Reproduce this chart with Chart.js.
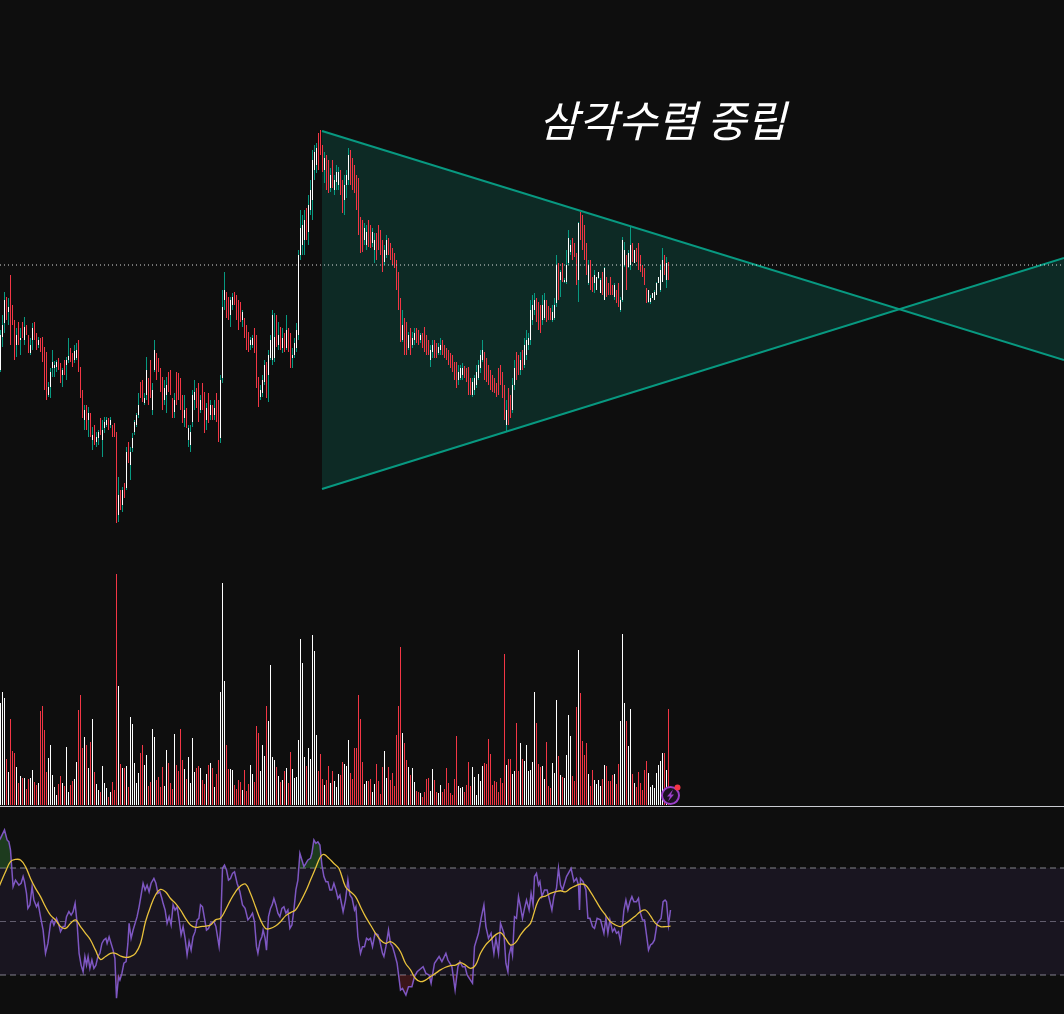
<!DOCTYPE html>
<html lang="ko">
<head>
<meta charset="utf-8">
<title>삼각수렴 중립</title>
<script src="https://cdn.jsdelivr.net/npm/chart.js@4.4.1/dist/chart.umd.min.js"></script>
<style>
  html, body { margin: 0; padding: 0; background: #0e0e0e; }
  #wrap { width: 1064px; height: 1014px; position: relative; }
</style>
</head>
<body>
<div id="wrap"><canvas id="chart"></canvas></div>
<script>
// candles, one per bar, oldest first
const openPrices = [
  635,650,638,655,630,663,677,700,688,695,
  690,675,655,670,660,675,660,673,662,647,
  660,675,665,655,660,660,650,640,605,613,
  632,632,633,640,635,625,638,635,640,650,
  645,640,642,655,630,605,580,590,580,585,
  560,570,558,562,580,560,572,575,580,575,
  573,572,567,485,507,495,510,512,550,535,
  552,568,575,585,615,610,597,605,618,635,
  590,630,645,640,628,620,600,605,625,620,
  600,588,622,620,615,602,582,590,560,555,
  578,600,608,610,590,612,605,580,595,585,
  593,585,605,595,562,622,700,705,700,685,
  695,704,700,697,690,680,680,672,665,655,
  655,670,662,620,603,607,618,635,625,642,
  640,642,680,655,670,652,662,652,670,665,
  642,645,652,665,745,755,760,785,768,790,
  800,830,835,855,860,850,830,840,835,812,
  830,810,818,815,825,815,800,815,820,845,
  835,830,822,815,780,775,760,755,775,770,
  757,750,762,770,765,755,738,745,760,755,
  750,745,738,725,700,660,680,675,652,670,
  655,660,670,668,660,665,668,660,658,640,
  648,657,655,647,650,658,653,650,647,645,
  642,635,630,620,622,625,632,630,625,620,
  605,610,615,622,632,640,645,638,632,628,
  622,620,615,625,630,625,610,575,605,600,
  590,615,642,640,630,645,635,645,655,660,
  680,690,698,695,690,680,682,695,692,690,
  680,682,697,735,720,735,718,718,737,748,
  760,755,745,720,787,782,772,755,717,738,
  722,717,710,722,707,728,700,723,717,723,
  715,703,710,715,690,700,735,745,733,735,
  757,737,752,757,745,735,732,712,698,698,
  702,700,705,717,710,718,745,720,737
];
const highPrices = [
  655,655,660,658,670,685,708,703,702,725,
  695,680,672,678,672,678,683,675,665,662,
  677,678,667,663,662,663,653,648,618,632,
  650,639,640,642,637,632,640,643,662,652,
  647,655,657,660,633,610,595,595,593,587,
  573,575,568,570,582,580,583,583,582,583,
  575,577,568,523,510,513,517,553,558,553,
  567,580,587,607,618,620,607,643,622,640,
  617,660,647,642,632,623,620,623,628,630,
  602,607,628,627,622,605,605,592,575,575,
  610,620,612,617,605,617,608,597,607,600,
  595,600,607,600,625,710,728,708,703,703,
  707,708,705,700,698,690,682,675,668,663,
  665,672,665,623,615,625,640,638,650,665,
  690,687,685,678,673,672,667,685,672,667,
  652,662,677,750,790,785,790,792,805,820,
  850,855,857,867,870,855,848,845,840,832,
  840,825,835,833,830,820,825,830,852,850,
  842,835,825,822,783,780,777,775,780,775,
  772,767,767,775,770,760,755,765,762,757,
  752,747,740,728,702,690,682,678,668,672,
  668,672,672,670,667,667,673,665,660,655,
  660,660,657,657,662,660,655,652,650,647,
  645,638,638,635,635,637,634,632,633,622,
  622,625,635,640,650,660,648,642,635,630,
  625,622,617,632,635,628,615,600,612,605,
  622,640,648,645,648,650,662,670,667,700,
  705,707,702,698,695,705,707,700,694,692,
  695,702,745,737,730,737,722,750,770,760,
  762,757,747,778,788,785,775,757,740,740,
  723,730,723,728,722,728,733,723,717,723,
  715,717,710,717,703,763,758,745,750,773,
  757,750,752,757,745,735,732,712,710,705,
  707,710,718,723,735,752,745,743,738
];
const lowPrices = [
  630,635,635,628,628,653,667,680,675,655,
  675,640,643,655,645,662,655,665,647,645,
  650,660,650,652,648,638,610,600,603,602,
  623,623,628,630,617,613,625,620,637,638,
  633,637,640,628,602,582,570,570,563,563,
  550,555,553,555,565,543,567,573,570,572,
  563,563,477,478,490,488,502,510,537,520,
  548,565,573,582,602,598,595,600,595,602,
  585,628,620,628,608,590,595,587,608,605,
  582,582,595,600,590,577,573,572,553,548,
  573,590,592,578,587,590,567,570,577,580,
  580,580,578,558,557,617,690,682,680,673,
  690,695,680,670,678,673,662,650,648,650,
  652,647,612,593,600,603,615,602,598,640,
  635,638,653,650,650,647,648,650,648,632,
  632,642,648,660,740,745,745,760,755,785,
  780,820,827,830,845,828,817,810,807,808,
  812,805,810,810,805,787,785,802,815,815,
  810,807,790,765,747,748,755,750,753,752,
  753,737,740,750,745,728,735,742,745,740,
  735,732,710,690,658,658,645,645,650,645,
  652,655,657,655,657,652,648,645,645,633,
  642,642,642,645,645,645,642,640,635,632,
  628,620,612,615,620,620,622,618,605,605,
  603,605,612,620,627,638,620,618,615,610,
  608,607,603,605,615,602,580,568,575,582,
  587,610,620,625,625,630,632,640,650,655,
  675,685,678,670,667,675,680,678,680,680,
  678,680,693,700,703,718,717,716,735,745,
  740,743,715,698,760,750,740,725,715,710,
  708,707,710,721,707,705,700,703,705,705,
  705,700,697,693,688,698,733,710,732,730,
  738,737,738,730,728,723,715,697,697,696,
  702,700,705,717,708,718,725,712,720
];
const closePrices = [
  650,640,655,632,665,675,700,682,693,670,
  678,650,665,658,662,665,673,667,650,655,
  672,662,652,660,650,640,615,605,613,628,
  638,635,638,632,620,630,628,640,644,640,
  635,649,650,630,605,585,590,572,587,565,
  565,560,563,568,568,570,578,580,572,580,
  567,565,485,505,493,510,505,548,540,548,
  562,578,585,595,605,600,602,630,602,605,
  610,650,625,630,612,595,612,615,612,608,
  585,600,600,605,595,582,590,578,572,568,
  605,608,595,582,600,592,572,592,582,595,
  582,592,582,562,620,693,710,685,682,700,
  703,697,682,675,680,688,665,652,652,660,
  662,650,615,600,610,620,635,605,645,660,
  685,663,655,665,652,662,650,670,650,635,
  645,657,670,745,772,775,780,770,795,810,
  840,848,852,835,850,832,842,815,810,825,
  815,820,828,828,810,790,815,825,845,825,
  818,812,800,770,755,752,772,768,758,755,
  768,760,745,752,748,732,750,760,748,742,
  738,735,715,695,665,675,655,650,665,655,
  662,667,660,658,665,655,652,650,648,650,
  655,645,645,653,655,648,645,642,638,635,
  630,622,615,628,632,632,625,620,610,608,
  618,622,628,635,645,650,625,622,618,612,
  610,610,605,608,618,605,585,590,582,585,
  615,632,622,628,640,632,655,660,662,690,
  695,700,682,675,670,695,700,682,682,682,
  688,695,735,702,728,720,720,735,762,755,
  742,745,717,777,763,753,742,728,735,712,
  710,725,723,728,720,705,732,705,707,707,
  705,715,697,695,700,760,750,712,747,755,
  738,750,738,732,728,723,715,697,710,702,
  707,708,717,723,730,740,725,737,722
];
const volumes = [
  60,75,50,90,102,113,107,46,33,86,
  54,52,38,22,29,27,27,16,26,27,
  35,23,20,22,94,99,75,33,47,60,
  30,18,10,21,29,22,19,58,13,20,
  24,26,43,95,110,57,68,60,37,63,
  86,33,21,15,13,39,22,17,8,13,
  23,15,231,119,41,37,37,39,18,88,
  81,42,22,32,52,60,40,50,19,23,
  76,68,25,28,18,38,19,55,42,22,
  16,71,40,34,76,45,36,26,48,22,
  67,33,37,39,37,25,21,31,40,42,
  37,18,31,45,113,222,124,60,36,36,
  35,20,16,25,23,15,35,14,21,40,
  31,23,79,72,34,60,49,99,84,140,
  48,45,38,29,23,25,34,37,22,53,
  36,27,28,65,166,142,48,39,57,46,
  170,154,70,34,51,26,20,25,39,22,
  34,24,18,31,30,43,41,39,65,32,
  26,57,57,110,86,43,21,24,24,26,
  13,21,41,24,11,38,54,27,38,25,
  32,19,70,99,158,72,62,45,38,30,
  37,23,14,13,12,8,13,26,27,14,
  36,25,13,12,20,13,16,37,22,12,
  10,26,69,19,17,18,13,20,43,19,
  38,28,10,31,24,39,42,41,66,51,
  20,24,23,13,27,22,151,40,46,46,
  31,34,82,34,62,46,44,60,34,35,
  43,113,82,41,38,39,26,63,19,17,
  42,32,105,49,30,28,27,50,90,69,
  29,24,98,155,112,64,50,62,31,19,
  35,25,21,25,19,26,40,39,24,24,
  30,31,21,41,84,171,102,84,59,96,
  31,22,18,33,22,15,35,44,32,18,
  20,17,32,40,44,52,52,35,96
];

// RSI as [bar index, value]
const rsiPoints = [
  [3,80.0],[4,81.1],[6,84.2],[7.3,80.5],[8.2,79.8],[9,76.7],[10.3,63.0],[11.5,65.5],[13.2,63.6],[14.3,64.3],
  [15.3,66.8],[16,64.9],[17,60.5],[17.7,54.9],[18.7,56.2],[19.8,63.0],[20.7,58.0],[22,55.5],[22.8,56.8],[24,51.8],
  [25.3,46.8],[26.5,38.1],[27.7,41.8],[29,49.3],[29.8,50.6],[30.7,48.7],[32,51.2],[33,49.3],[34,46.2],[35.3,48.1],
  [36.2,48.1],[37,51.8],[38.2,53.7],[39.3,52.4],[40.3,53.7],[41.3,56.8],[42.3,49.3],[43.3,38.1],[44.3,33.7],[45.3,31.2],
  [46.2,36.9],[47,33.7],[47.8,36.9],[48.7,32.5],[49.7,35.6],[50.7,32.5],[51.7,33.7],[52.7,36.9],[53.7,38.1],[54.7,41.8],
  [55.7,43.1],[56.7,43.7],[57.3,41.8],[58.3,44.3],[59.3,41.8],[60.3,39.3],[61.2,36.2],[62,21.3],[63,29.4],[63.7,28.1],
  [64.7,30.6],[65.7,34.4],[66.8,35.0],[67.7,41.8],[68.3,49.3],[69.3,43.7],[70.3,46.8],[71.3,49.3],[72.3,51.8],[73.3,55.5],
  [74.3,59.9],[75.3,64.3],[76.3,61.8],[77.3,63.6],[78.3,61.1],[79.3,64.3],[80.7,66.1],[81.7,64.3],[82.7,60.5],[83.7,61.1],
  [84.7,58.6],[85.3,56.8],[86.3,54.3],[87.3,49.3],[88.3,51.8],[89.3,48.7],[90.3,56.2],[91.3,54.3],[92.3,55.5],[93.3,50.6],
  [94.3,45.0],[95.3,48.1],[96.3,43.7],[97.3,37.5],[98.3,42.5],[99.3,39.3],[100.3,44.3],[101.3,46.2],[102.3,50.6],[103.2,51.2],
  [104,56.2],[105,55.5],[106,51.2],[107,46.8],[108,47.4],[109,49.3],[110.7,49.9],[111.7,48.1],[113.3,40.6],[114,46.8],
  [115,69.9],[116,71.1],[117,69.3],[118,65.5],[119,66.1],[120,68.0],[121,68.6],[122.3,64.3],[123.7,61.1],[125,56.2],
  [126.3,54.9],[127.7,50.6],[129,51.8],[130,53.1],[131,49.9],[132,40.6],[132.7,38.1],[133.7,42.5],[134.7,44.3],[135.3,46.8],
  [136.3,43.7],[137,39.3],[138,51.8],[139,54.9],[139.8,56.2],[140.7,58.6],[141.7,56.2],[142.7,53.1],[143.7,51.8],[144.7,54.9],
  [145.7,55.5],[146.7,53.1],[147.7,54.3],[148.7,47.4],[149.7,48.7],[150.7,54.3],[151.7,61.8],[152.7,65.5],[153.7,75.5],[154.7,73.0],
  [155.7,70.5],[156.7,71.7],[157.7,73.0],[159,73.6],[159.7,75.5],[160.7,80.5],[161.7,79.2],[162.7,79.8],[163.7,78.6],[164.7,71.1],
  [165.7,66.8],[166.7,64.9],[167.7,64.9],[168.7,61.8],[169.7,61.8],[170.7,64.3],[171.7,61.8],[172.7,58.6],[173.7,59.9],[175.3,53.7],
  [176.5,58.0],[177.7,65.5],[178.7,59.9],[179.8,58.7],[181,54.3],[181.7,55.5],[182.7,44.3],[184,38.1],[185,40.6],[186,40.6],
  [187,43.7],[188,43.1],[189,43.7],[190,40.6],[191.3,45.6],[192.7,45.0],[193.7,42.5],[195,38.1],[195.7,36.9],[196.7,40.6],
  [198,46.8],[199,41.8],[200,40.6],[201,38.1],[202.3,34.4],[204,24.4],[205,25.0],[206.7,22.5],[208,25.6],[209.7,25.6],
  [211,29.4],[212.3,31.2],[215.3,33.1],[216.7,30.6],[218.3,30.0],[219.3,26.9],[221,34.4],[223.3,36.9],[224.7,35.0],[226.7,38.1],
  [227.7,35.6],[229.7,33.1],[231.3,24.4],[232.7,33.1],[233.7,35.0],[235,33.1],[236.3,33.1],[237.3,30.0],[240,26.9],[241,40.6],
  [243,45.6],[244.3,51.2],[245.7,56.2],[246.7,48.1],[248,43.7],[249.3,45.6],[250.7,38.1],[251.7,43.7],[253,38.1],[254,49.3],
  [255.7,45.6],[256.7,34.4],[257.7,31.2],[258.3,37.5],[259.3,40.6],[260,37.5],[261,51.8],[262,51.2],[263,59.3],[264,55.5],
  [265,51.2],[266,54.9],[267,58.0],[268.3,54.3],[269.3,60.5],[270.3,56.2],[271,66.8],[272,68.0],[273,63.6],[273.7,64.9],
  [274.7,59.3],[276,61.8],[277.3,61.8],[278.3,58.7],[279.7,54.3],[280.7,59.3],[282,62.4],[283,69.9],[284,63.6],[285,61.8],
  [287,66.8],[289.3,69.9],[290.7,64.9],[292,66.1],[293,63.6],[293.5,54.3],[294,66.1],[295.3,64.9],[296.7,61.8],[297.7,51.2],
  [298.7,51.2],[300,48.1],[301,47.4],[302.3,51.2],[304,50.6],[305.7,45.6],[306.7,51.2],[307.7,45.6],[308.7,50.6],[310,46.2],
  [311,47.4],[312,45.6],[313,46.2],[314,42.5],[315,48.7],[315.7,54.3],[316.7,58.0],[317.7,54.3],[318.7,57.4],[319.7,59.3],
  [320.7,57.4],[322,57.4],[323,58.7],[324,53.1],[325,50.6],[326,50.6],[327,45.0],[328,39.3],[329,41.2],[330,41.8],
  [331,43.1],[332.3,49.3],[333.7,50.6],[334.3,51.2],[335.3,57.4],[336.3,58.0],[337,57.4],[338,48.7],[339,54.3]
];

// RSI-based moving average as [bar index, value]
const rsiMaPoints = [
  [3,62.5],[4,64.3],[6.5,68.6],[9,72.4],[11.5,73.2],[14,73.0],[16.5,70.5],[19,66.1],[21.5,62.4],[24,59.3],
  [26.5,55.5],[29,52.4],[31.5,50.6],[34,48.1],[36.5,47.4],[39,49.3],[41.5,50.6],[44,48.1],[46.5,45.6],[49,43.1],
  [51.5,39.3],[54,35.8],[56.5,36.9],[59,38.1],[61.5,38.1],[64,37.1],[66.5,36.6],[69,36.9],[71.5,38.1],[74,41.8],
  [76.5,49.9],[79,55.5],[81.5,59.9],[84,62.0],[86.5,61.1],[89,58.6],[91.5,56.8],[94,54.3],[96.5,51.2],[99,48.7],
  [101.5,47.8],[104,48.1],[106.5,48.3],[109,48.7],[111.5,50.6],[114,51.2],[116.5,54.3],[119,58.0],[121.5,61.1],[124,63.3],
  [126.5,64.0],[129,60.5],[131.5,55.5],[134,50.6],[136.5,47.4],[139,47.4],[141.5,48.3],[144,49.9],[146.5,52.1],[149,53.3],
  [151.5,54.3],[154,57.4],[156.5,61.1],[159,65.5],[161.5,69.9],[164,74.2],[165.7,75.1],[168.2,73.6],[170.7,71.7],[173.2,69.9],
  [176.5,63.0],[179,61.1],[181.5,59.3],[184,55.5],[186.5,51.8],[189,48.7],[191.5,45.6],[194,43.1],[196.5,41.8],[199,42.5],
  [201.5,41.2],[204,38.7],[206.5,34.4],[209,31.9],[211.5,28.7],[214,27.5],[216.5,28.1],[219,29.4],[221.5,30.6],[224,31.9],
  [226.5,32.9],[229,33.5],[231.5,33.7],[234,34.6],[236.5,33.7],[239,32.5],[241.5,33.7],[244,38.1],[246.5,41.2],[249,43.1],
  [251.5,45.0],[254,45.8],[256.5,43.7],[259,41.2],[261.5,42.1],[264,45.0],[266.5,47.4],[269,49.3],[270.7,53.1],[272.3,56.8],
  [274,59.0],[276.5,59.5],[279,60.5],[281.5,61.1],[284,61.5],[286.5,61.1],[289,62.4],[291.5,63.3],[294,64.0],[296.5,63.6],
  [299,61.1],[301.5,58.0],[304,54.9],[306.5,52.4],[309,49.9],[311.5,48.7],[314,48.1],[316.5,49.3],[319,50.6],[321.5,52.1],
  [324,53.7],[326.5,54.3],[329,52.1],[331.5,49.3],[334,48.1],[336.5,48.1],[339,48.3]
];

// triangle drawing anchors [bar index, price]
const upperTrend = [[164.75, 869], [535.75, 640]];
const lowerTrend = [[164.75, 511], [535.75, 742]];
const lastPrice = 735;
const rsiLevels = [70, 50, 30];
const titleText = '삼각수렴 중립';
const titleAt = [273.25, 863];

const X_MIN = 3.75, X_MAX = 535.75;
const TEAL = '#089981', RED = '#f23645', WHITE = '#ffffff';

const idx = openPrices.map((_, i) => i);
const rising = idx.map(i => closePrices[i] >= openPrices[i]);
const toXY = pts => pts.map(p => ({ x: p[0], y: p[1] }));
const across = v => [{ x: X_MIN, y: v }, { x: X_MAX, y: v }];

const lineBase = { type: 'line', pointRadius: 0, pointHoverRadius: 0, fill: false };
const barBase = { type: 'bar', grouped: false, barThickness: 1, inflateAmount: 0, borderWidth: 0 };

const overlay = {
  id: 'overlay',
  afterDraw(chart) {
    const { ctx, scales } = chart;
    ctx.save();

    // pane divider below volume
    const sepY = Math.round(scales.yVol.getPixelForValue(0)) + 1.5;
    ctx.strokeStyle = '#c9cbd1';
    ctx.lineWidth = 1;
    ctx.beginPath();
    ctx.moveTo(0, sepY);
    ctx.lineTo(chart.width, sepY);
    ctx.stroke();

    // little bolt badge at the last bar
    const cx = scales.x.getPixelForValue(idx.length);
    const cy = sepY - 11;
    ctx.fillStyle = '#1b1220';
    ctx.strokeStyle = '#9b3fc9';
    ctx.lineWidth = 2;
    ctx.beginPath();
    ctx.arc(cx, cy, 8.5, 0, Math.PI * 2);
    ctx.fill();
    ctx.stroke();
    ctx.fillStyle = '#9b3fc9';
    ctx.beginPath();
    ctx.moveTo(cx + 2.5, cy - 6);
    ctx.lineTo(cx - 3.5, cy + 1);
    ctx.lineTo(cx - 0.5, cy + 1);
    ctx.lineTo(cx - 2.5, cy + 6);
    ctx.lineTo(cx + 3.5, cy - 1);
    ctx.lineTo(cx + 0.5, cy - 1);
    ctx.closePath();
    ctx.fill();
    ctx.fillStyle = RED;
    ctx.beginPath();
    ctx.arc(cx + 7, cy - 8, 3, 0, Math.PI * 2);
    ctx.fill();

    // pattern label
    ctx.font = 'italic 43px "Noto Sans CJK KR", "Noto Sans", sans-serif';
    ctx.fillStyle = WHITE;
    ctx.textAlign = 'left';
    ctx.textBaseline = 'alphabetic';
    ctx.fillText(titleText, scales.x.getPixelForValue(titleAt[0]), scales.y.getPixelForValue(titleAt[1]));
    ctx.restore();
  }
};

new Chart(document.getElementById('chart'), {
  type: 'line',
  data: {
    datasets: [
      { ...lineBase, data: toXY(upperTrend), borderColor: TEAL, borderWidth: 2,
        fill: '+1', backgroundColor: 'rgba(8,153,129,0.2)', yAxisID: 'y', order: 20 },
      { ...lineBase, data: toXY(lowerTrend), borderColor: TEAL, borderWidth: 2, yAxisID: 'y', order: 20 },

      { ...lineBase, data: across(rsiLevels[0]), borderColor: 'rgba(150,152,160,0.85)', borderWidth: 1,
        borderDash: [6, 4], fill: '+1', backgroundColor: 'rgba(126,87,194,0.1)', yAxisID: 'yRsi', order: 19 },
      { ...lineBase, data: across(rsiLevels[2]), borderColor: 'rgba(150,152,160,0.85)', borderWidth: 1,
        borderDash: [6, 4], yAxisID: 'yRsi', order: 19 },
      { ...lineBase, data: across(rsiLevels[1]), borderColor: 'rgba(150,152,160,0.6)', borderWidth: 1,
        borderDash: [6, 4], yAxisID: 'yRsi', order: 19 },

      { ...lineBase, data: toXY(rsiPoints), borderWidth: 0, yAxisID: 'yRsi', order: 18,
        fill: { target: { value: rsiLevels[0] }, above: 'rgba(56,142,60,0.35)', below: 'transparent' } },
      { ...lineBase, data: toXY(rsiPoints), borderWidth: 0, yAxisID: 'yRsi', order: 18,
        fill: { target: { value: rsiLevels[2] }, above: 'transparent', below: 'rgba(242,54,69,0.2)' } },

      { ...barBase, data: idx.map(i => ({ x: i, y: volumes[i] })),
        backgroundColor: idx.map(i => rising[i] ? WHITE : RED), yAxisID: 'yVol', order: 15 },
      { ...barBase, data: idx.map(i => ({ x: i, y: [lowPrices[i], highPrices[i]] })),
        backgroundColor: idx.map(i => rising[i] ? TEAL : RED), yAxisID: 'y', order: 14 },
      { ...barBase, data: idx.map(i => ({ x: i, y: [openPrices[i], closePrices[i]] })),
        backgroundColor: idx.map(i => rising[i] ? WHITE : RED), yAxisID: 'y', order: 13 },

      { ...lineBase, data: across(lastPrice), borderColor: 'rgba(255,255,255,0.85)', borderWidth: 1,
        borderDash: [1, 3], yAxisID: 'y', order: 12 },

      { ...lineBase, data: toXY(rsiPoints), borderColor: '#7e57c2', borderWidth: 1.5, yAxisID: 'yRsi', order: 11 },
      { ...lineBase, data: toXY(rsiMaPoints), borderColor: '#e9c23c', borderWidth: 1.3, tension: 0.4,
        yAxisID: 'yRsi', order: 10 }
    ]
  },
  options: {
    responsive: true,
    maintainAspectRatio: false,
    animation: false,
    events: [],
    layout: { padding: 0 },
    plugins: {
      legend: { display: false },
      tooltip: { enabled: false },
      filler: { propagate: false }
    },
    scales: {
      x: { type: 'linear', min: X_MIN, max: X_MAX, offset: false, bounds: 'data', display: false },
      y: { type: 'linear', min: -14, max: 1000, display: false },
      yVol: { type: 'linear', min: -209, max: 805, display: false },
      yRsi: { type: 'linear', min: 15.42, max: 394.49, display: false }
    }
  },
  plugins: [overlay]
});
</script>
</body>
</html>
